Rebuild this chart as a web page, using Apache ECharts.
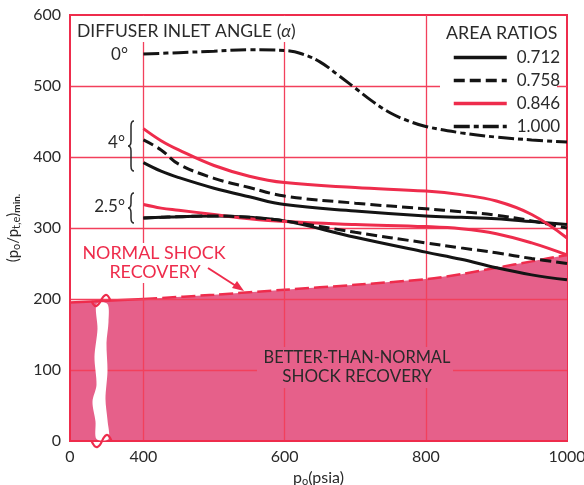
<!DOCTYPE html>
<html><head><meta charset="utf-8">
<script src="https://cdn.jsdelivr.net/npm/echarts@6/dist/echarts.min.js"></script>
<style>html,body{margin:0;padding:0;background:#fff;}#c{width:584px;height:485px;}</style>
</head><body><div id="c"></div>
<script>
// ---------- data (p0 in psia, ratio values) ----------
const xTickLabels = [0, 400, 600, 800, 1000];
const yMin = 0, yMax = 600, yStep = 100;
const gridX = [400, 600, 800];
const gridY = [100, 200, 300, 400, 500];

// 4 degree group
const x4 = [400, 425, 450, 500, 550, 600, 700, 800, 850, 900, 950, 1000];
const red4  = [440, 423, 410, 388, 373, 364, 357, 352, 347, 338, 319, 286];
const dash4 = [424, 410, 390, 370, 357, 345, 335, 327, 323, 318, 310, 300];
const blk4  = [392, 380, 371, 356, 344, 333, 324, 317, 315, 313, 309, 305];
// 2.5 degree group
const x25 = [400, 425, 450, 500, 550, 600, 700, 800, 850, 900, 950, 1000];
const red25  = [333, 328, 325, 319, 313, 309, 305, 302, 299, 292, 279, 262];
const dash25 = [314, 315, 316, 317, 315, 310, 294, 279, 272, 265, 257, 250];
const blk25  = [314, 315, 316, 317, 315, 310, 287, 266, 256, 244, 234, 227];
// 0 degree group
const x0 = [400, 450, 500, 550, 600, 625, 650, 675, 700, 725, 750, 775, 800, 850, 900, 950, 1000];
const dd0 = [545, 547, 549, 551, 550, 545, 534, 516, 497, 478, 462, 451, 443, 434, 428, 424, 421];
// normal shock recovery
const shockX = [0, 400, 500, 600, 700, 800, 850, 900, 950, 1000];
const shockY = [195, 200, 206, 213, 220, 228, 235, 244, 253, 262];
const ratioNames = ['0.712', '0.758', '0.846', '1.000'];
const BREAK_AT = 177; // psia, inside the broken 0-400 segment

// ---------- broken x axis: 0..400 is compressed ----------
const AXIS_MIN = 296, BREAK_END = 400;
const toAxis = v => v < BREAK_END ? AXIS_MIN + v * (BREAK_END - AXIS_MIN) / BREAK_END : v;
const fromAxis = a => a < BREAK_END ? Math.round((a - AXIS_MIN) * BREAK_END / (BREAK_END - AXIS_MIN)) : a;
const pts = (xs, ys) => xs.map((x, i) => [toAxis(x), ys[i]]);

const RED = '#ee2c4c', GRID = '#f2405c', PINK = '#e6608a', INK = '#2a2a2a', BLK = '#141414';
const FONT = 'Lato';

function curve(name, xs, ys, color, dash, z) {
  return {
    name, type: 'line', data: pts(xs, ys), smooth: 0.4, symbol: 'none', z: z || 10,
    lineStyle: { color, width: 3, type: dash || 'solid', cap: 'butt' },
    itemStyle: { color }, silent: true
  };
}
function shockVal(x) {
  for (let i = 1; i < shockX.length; i++) {
    if (x <= shockX[i]) {
      const t = (x - shockX[i - 1]) / (shockX[i] - shockX[i - 1]);
      return shockY[i - 1] + t * (shockY[i] - shockY[i - 1]);
    }
  }
  return shockY[shockY.length - 1];
}
const leftIdx = shockX.filter(x => x <= 400).length;

function brace(x, y1, y2, w) {
  const ym = (y1 + y2) / 2, q = 5, m = x + w / 2;
  return `M${x + w} ${y1} Q${m} ${y1} ${m} ${y1 + q} L${m} ${ym - q} Q${m} ${ym} ${x} ${ym} Q${m} ${ym} ${m} ${ym + q} L${m} ${y2 - q} Q${m} ${y2} ${x + w} ${y2}`;
}

const chart = echarts.init(document.getElementById('c'), null, { renderer: 'canvas' });
const option = {
  animation: false,
  backgroundColor: '#fff',
  grid: { left: 70, right: 17, top: 15, bottom: 44, show: true, borderColor: RED, borderWidth: 2, backgroundColor: 'transparent',
          containLabel: false, outerBoundsMode: 'none' },
  xAxis: {
    type: 'value', min: AXIS_MIN, max: 1000, z: 6,
    axisLine: { show: true, onZero: false, lineStyle: { color: RED, width: 2 } },
    axisTick: { show: false }, splitLine: { show: false },
    axisLabel: { customValues: xTickLabels.map(toAxis), formatter: v => String(fromAxis(v)), margin: 8, fontSize: 16, color: INK, fontFamily: FONT, hideOverlap: false },
    name: 'p{s|o}(psia)', nameLocation: 'middle', nameGap: 24,
    nameTextStyle: { fontSize: 16, color: INK, fontFamily: FONT, rich: { s: { fontSize: 11, fontFamily: FONT, color: INK, padding: [7, 0, 0, 0] } } }
  },
  yAxis: {
    type: 'value', min: yMin, max: yMax, interval: yStep, z: 6,
    axisLine: { show: true, lineStyle: { color: RED, width: 2 } },
    axisTick: { show: false }, splitLine: { show: false },
    axisLabel: { margin: 9, fontSize: 16, color: INK, fontFamily: FONT },
    name: '(p{s|o}/p{s|t,e}){m|min.}', nameLocation: 'middle', nameGap: 44, nameRotate: 90,
    nameTextStyle: { fontSize: 15, color: INK, fontFamily: FONT,
      rich: { s: { fontSize: 11, fontFamily: FONT, color: INK, padding: [7, 0, 0, 0] },
              m: { fontSize: 10, fontWeight: 'bold', fontFamily: FONT, color: INK, padding: [7, 0, 0, 0] } } }
  },
  legend: {
    data: ratioNames, orient: 'vertical', left: 452, top: 49, itemWidth: 53, itemHeight: 14, itemGap: 6,
    padding: 0, selectedMode: false, z: 40,
    itemStyle: { opacity: 0, borderWidth: 0 },
    lineStyle: { width: 3.5 },
    textStyle: { fontSize: 17, color: INK, fontFamily: FONT, padding: [0, 0, 0, 5] }
  },
  series: [
    { name: 'area', type: 'line', data: pts(shockX, shockY), symbol: 'none', z: 1, silent: true,
      lineStyle: { width: 0 }, areaStyle: { color: PINK, opacity: 1 } },
    { name: 'grid', type: 'line', data: [], z: 3, silent: true,
      markLine: { silent: true, symbol: 'none', label: { show: false },
        lineStyle: { color: GRID, width: 1.3, type: 'solid' },
        data: gridX.map(v => ({ xAxis: v })).concat(gridY.map(v => ({ yAxis: v }))) } },
    { name: 'shockL', type: 'line', data: pts(shockX.slice(0, leftIdx), shockY.slice(0, leftIdx)), symbol: 'none', z: 4, silent: true,
      lineStyle: { color: RED, width: 2.5 } },
    { name: 'shockR', type: 'line', data: pts(shockX.slice(leftIdx - 1), shockY.slice(leftIdx - 1)), symbol: 'none', z: 4, silent: true, smooth: 0.3,
      lineStyle: { color: RED, width: 2.5, type: [14, 5] } },
    { name: 'break', type: 'custom', z: 8, silent: true, data: [[toAxis(BREAK_AT), shockVal(BREAK_AT)]],
      renderItem: function (params, api) {
        const top = api.coord([api.value(0), api.value(1)]);
        const bot = api.coord([api.value(0), 0]);
        const cx = top[0], ty = top[1], yb = bot[1];
        const h = yb - ty;
        const left = [[cx - 6, ty + 3], [cx - 5, ty + h * 0.2], [cx - 8, ty + h * 0.4], [cx - 6, ty + h * 0.6], [cx - 10, ty + h * 0.72], [cx - 7, ty + h * 0.86], [cx - 6, yb - 2]];
        const right = [[cx + 6, yb - 2], [cx + 5, ty + h * 0.85], [cx + 3, ty + h * 0.7], [cx + 5, ty + h * 0.5], [cx + 4, ty + h * 0.3], [cx + 6, ty + h * 0.15], [cx + 5, ty + 3]];
        return {
          type: 'group', children: [
            { type: 'polygon', shape: { points: left.concat(right), smooth: 0.3 }, style: { fill: '#fff' } },
            { type: 'polyline', shape: { points: [[cx - 11, ty], [cx - 6, ty + 5], [cx + 3, ty - 6], [cx + 8, ty]], smooth: 0.5 }, style: { stroke: RED, lineWidth: 2.2, fill: null } },
            { type: 'polyline', shape: { points: [[cx - 11, yb], [cx - 5, yb + 6], [cx + 4, yb - 6], [cx + 9, yb]], smooth: 0.5 }, style: { stroke: RED, lineWidth: 2.2, fill: null } }
          ]
        };
      } },
    { name: 'braces', type: 'custom', z: 30, silent: true, coordinateSystem: 'none', data: [[0]],
      renderItem: function () {
        return { type: 'group', children: [
          { type: 'path', shape: { pathData: brace(128, 121, 171, 6) }, style: { stroke: INK, lineWidth: 1.5, fill: null } },
          { type: 'path', shape: { pathData: brace(128, 193, 223, 6) }, style: { stroke: INK, lineWidth: 1.5, fill: null } }
        ] };
      } },
    curve('0.712', x4, blk4, BLK),
    curve('0.758', x4, dash4, BLK, [11, 5]),
    curve('0.846', x4, red4, RED),
    curve('0.712', x25, blk25, BLK),
    curve('0.758', x25, dash25, BLK, [11, 5], 11),
    curve('0.846', x25, red25, RED),
    curve('1.000', x0, dd0, BLK, [16, 4, 5, 4])
  ],
  graphic: { elements: [] }
};

const txt = (x, y, text, align, color, size, extra) => ({
  type: 'text', x, y, z: 30,
  style: Object.assign({ text, fill: color || INK, font: `${size || 16}px ${FONT}`, align: align || 'left', verticalAlign: 'middle' }, extra || {})
});
option.graphic.elements = [
  { type: 'rect', z: 20, shape: { x: 72, y: 16, width: 230, height: 26 }, style: { fill: '#fff' } },
  { type: 'rect', z: 20, shape: { x: 440, y: 16, width: 117, height: 111 }, style: { fill: '#fff' } },
  { type: 'rect', z: 20, shape: { x: 78, y: 243, width: 154, height: 40 }, style: { fill: '#fff' } },
  { type: 'rect', z: 20, shape: { x: 257, y: 347, width: 196, height: 41 }, style: { fill: PINK } },
  txt(77, 31, 'DIFFUSER INLET ANGLE ({a|α})', 'left', INK, 17.5, { rich: { a: { fontStyle: 'italic', fontSize: 17.5, fontFamily: FONT, fill: INK } } }),
  txt(128, 55, '0°', 'right', INK, 17),
  txt(125, 143, '4°', 'right', INK, 17),
  txt(125, 207, '2.5°', 'right', INK, 17),
  txt(446, 33, 'AREA RATIOS', 'left', INK, 17.8),
  txt(154, 253, 'NORMAL SHOCK', 'center', RED, 17.9),
  txt(155, 272, 'RECOVERY', 'center', RED, 17.9),
  { type: 'line', z: 30, shape: { x1: 208, y1: 268, x2: 236, y2: 286 }, style: { stroke: RED, lineWidth: 2 } },
  { type: 'polygon', z: 30, shape: { points: [[244, 291], [232, 288], [237, 281]] }, style: { fill: RED } },
  txt(357, 358, 'BETTER-THAN-NORMAL', 'center', INK, 16.4),
  txt(357, 377, 'SHOCK RECOVERY', 'center', INK, 17)
];
chart.setOption(option);
</script></body></html>
